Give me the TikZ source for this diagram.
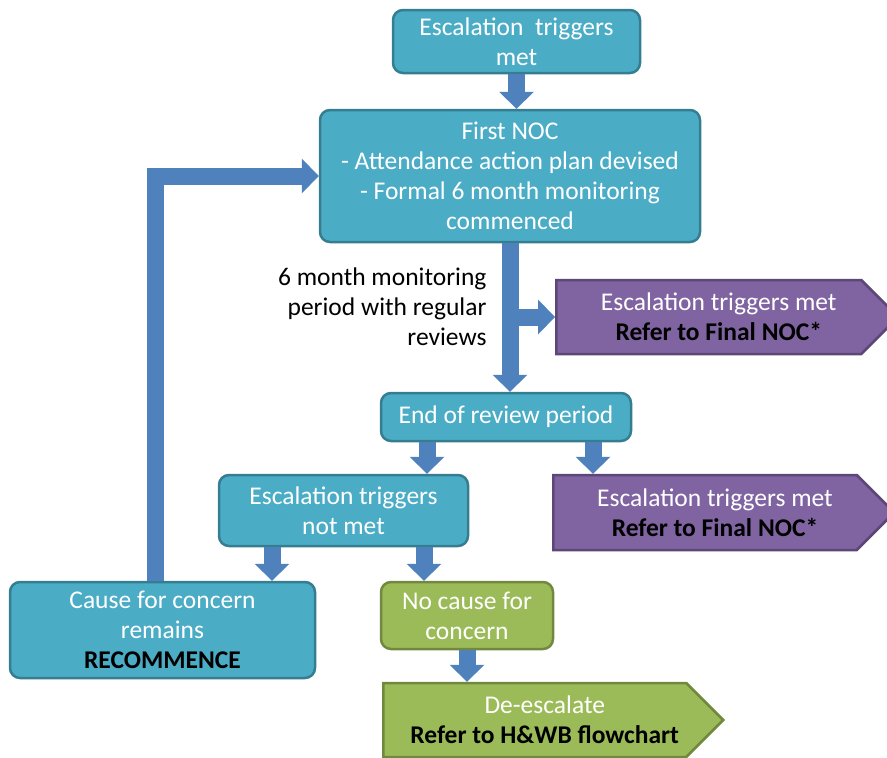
\documentclass[tikz,border=0pt]{standalone}
\usepackage{fontspec}
\setmainfont{Carlito}
\usepackage{tikz}
\usetikzlibrary{arrows.meta,shapes.symbols}
\definecolor{tealfill}{HTML}{4BACC6}
\definecolor{tealedge}{HTML}{357D91}
\definecolor{purplefill}{HTML}{8064A2}
\definecolor{purpleedge}{HTML}{5C4776}
\definecolor{greenfill}{HTML}{9BBB59}
\definecolor{greenedge}{HTML}{71893F}
\definecolor{flowblue}{HTML}{4F81BD}
\newcommand{\keyword}[1]{{\color{black}\bfseries #1}}
\newcommand{\indentline}{\hspace*{20pt}}
\tikzset{%
  flow/.style={draw=flowblue,line width=17pt,-{Triangle[width=35pt,length=17pt,line width=0pt]}},
  stage/.style={rectangle,rounded corners=10pt,draw=tealedge,fill=tealfill,line width=2.5pt,text=white,align=center,inner sep=2pt},
  calm/.style={stage,draw=greenedge,fill=greenfill},
  refer/.style={signal,signal to=east,signal pointer angle=90,draw=purpleedge,fill=purplefill,line width=2.5pt,text=white,align=center,inner sep=2pt,anchor=west},
  deesc/.style={refer,draw=greenedge,fill=greenfill},
}

\begin{document}
\begin{tikzpicture}[x=1pt,y=-1pt,font=\fontsize{25.5}{30}\selectfont]
      \useasboundingbox (0,0) rectangle (887,758);
      \clip (0,0) rectangle (887,758);

      \node[stage,minimum width=247pt,minimum height=63pt] (trigger) at (516.5,41.5) {Escalation\ \ triggers\\met};
      \node[stage,minimum width=380pt,minimum height=132pt] (noc) at (510,176) {First NOC\\- Attendance action plan devised\\- Formal 6 month monitoring\\commenced};
      \node[anchor=east,align=right] (period) at (490,307) {6 month monitoring\\period with regular\\reviews};
      \node[refer,minimum width=342pt,minimum height=74pt] (final1) at (555,317) {\indentline Escalation triggers met\\\indentline\keyword{Refer to Final NOC*}};
      \node[stage,minimum width=250pt,minimum height=48pt] (review) at (506,417) {End of review period};
      \node[stage,minimum width=249pt,minimum height=71pt] (notmet) at (343.5,510.5) {Escalation triggers\\not met};
      \node[refer,minimum width=341pt,minimum height=75pt] (final2) at (552,512.5) {\indentline Escalation triggers met\\\indentline\keyword{Refer to Final NOC*}};
      \node[stage,minimum width=305pt,minimum height=96pt] (cause) at (162.5,630) {Cause for concern\\remains\\\keyword{RECOMMENCE}};
      \node[calm,minimum width=172pt,minimum height=67pt] (nocause) at (467,615.5) {No cause for\\concern};
      \node[deesc,minimum width=340pt,minimum height=74pt] (relax) at (382,720) {\indentline De-escalate\\\indentline\keyword{Refer to H\&WB flowchart}};

      \draw[flow] (trigger.south) -- (trigger.south |- noc.north);
      \draw[flow] (noc.south) -- (noc.south |- review.north);
      \draw[flow] (noc.south |- final1.west) -- (final1.west);
      \draw[flow] ([xshift=-79pt]review.south) -- ([xshift=-79pt]review.south |- notmet.north);
      \draw[flow] ([xshift=87pt]review.south) -- ([xshift=87pt]review.south |- final2.north);
      \draw[flow] ([xshift=-71.5pt]notmet.south) -- ([xshift=-71.5pt]notmet.south |- cause.north);
      \draw[flow] ([xshift=80.5pt]notmet.south) -- ([xshift=80.5pt]notmet.south |- nocause.north);
      \draw[flow] (nocause.south) -- (relax.north -| nocause.south);
      \draw[flow] ([xshift=-7pt]cause.north) |- (noc.west);
    \end{tikzpicture}
\end{document}
